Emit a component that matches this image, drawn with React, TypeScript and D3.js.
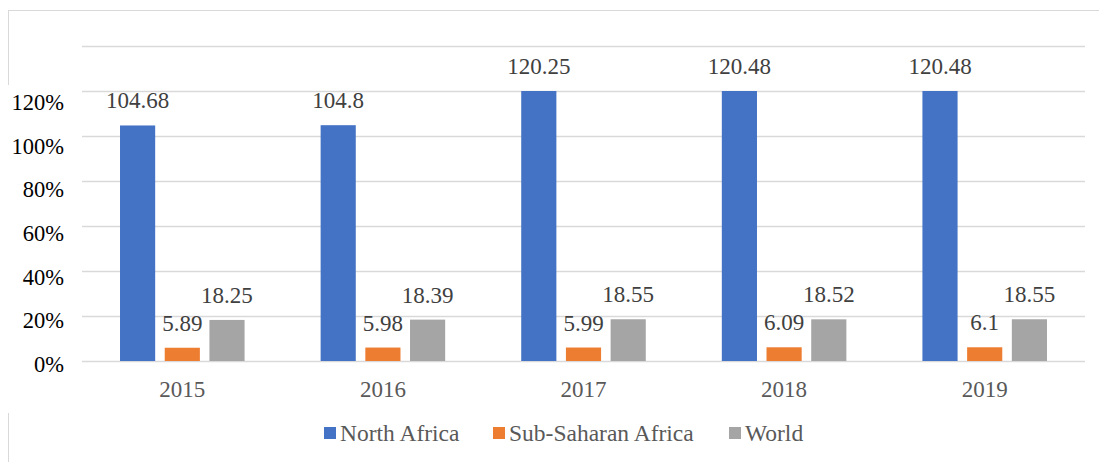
import React from "react";
import * as d3 from "d3";

const years = ["2015", "2016", "2017", "2018", "2019"];
const seriesNames = ["North Africa", "Sub-Saharan Africa", "World"];
const northAfrica = [104.68, 104.8, 120.25, 120.48, 120.48];
const subSaharan = [5.89, 5.98, 5.99, 6.09, 6.1];
const world = [18.25, 18.39, 18.55, 18.52, 18.55];
const colors = ["#4472C4", "#ED7D31", "#A5A5A5"];
const gridTicks = [0, 20, 40, 60, 80, 100, 120, 140];
const labelTicks = [0, 20, 40, 60, 80, 100, 120];
const axisMax = 120;

const W = 1099;
const H = 462;

export default function App() {
  const series = [northAfrica, subSaharan, world];
  const x = d3.scaleBand().domain(years).range([82, 1085]).padding(0);
  const inner = d3
    .scaleBand()
    .domain(seriesNames)
    .range([0, 133.5])
    .paddingInner(0.2135)
    .paddingOuter(0.1);
  const innerOffset = (x.bandwidth() - 133.5) / 2;
  const y = d3.scaleLinear().domain([0, 140]).range([361, 46]);
  const yLabel = d3.scaleLinear().domain([0, 120]).range([364, 102]);
  const font = "Liberation Serif";

  const legendX = [324, 493, 729];

  return (
    <svg
      width={W}
      height={H}
      style={{ position: "absolute", left: 0, top: 0, background: "#fff" }}
    >
      <line x1={8} x2={W} y1={10.5} y2={10.5} stroke="#D9D9D9" />
      <line x1={8.5} x2={8.5} y1={10} y2={85} stroke="#D9D9D9" />
      <line x1={8.5} x2={8.5} y1={413} y2={H} stroke="#D9D9D9" />

      {gridTicks.map((t) => (
        <line
          key={t}
          x1={82}
          x2={1085}
          y1={Math.round(y(t)) + 0.5}
          y2={Math.round(y(t)) + 0.5}
          stroke="#D9D9D9"
          strokeWidth={1.5}
        />
      ))}

      {labelTicks.map((t) => (
        <text
          key={t}
          x={64}
          y={yLabel(t)}
          dy="0.35em"
          textAnchor="end"
          style={{ fontFamily: font, fontSize: 22.5 }}
          fill="#000"
        >
          {t}%
        </text>
      ))}

      {years.map((yr, i) => (
        <g key={yr} transform={`translate(${x(yr)! + innerOffset},0)`}>
          {series.map((s, k) => {
            const v = s[i];
            const top = y(Math.min(v, axisMax));
            const bx = inner(seriesNames[k])!;
            const bw = inner.bandwidth();
            return (
              <g key={k}>
                <rect
                  x={bx}
                  y={top}
                  width={bw}
                  height={y(0) - top}
                  fill={colors[k]}
                />
                <text
                  x={bx + bw / 2}
                  y={top - 17}
                  textAnchor="middle"
                  style={{ fontFamily: font, fontSize: 23 }}
                  fill="#404040"
                >
                  {v}
                </text>
              </g>
            );
          })}
        </g>
      ))}

      {years.map((yr) => (
        <text
          key={yr}
          x={x(yr)! + x.bandwidth() / 2}
          y={397}
          textAnchor="middle"
          style={{ fontFamily: font, fontSize: 23 }}
          fill="#595959"
        >
          {yr}
        </text>
      ))}

      {seriesNames.map((n, k) => (
        <g key={n}>
          <rect x={legendX[k]} y={427} width={12} height={12} fill={colors[k]} />
          <text
            x={legendX[k] + 16}
            y={441}
            style={{ fontFamily: font, fontSize: 23.5 }}
            fill="#595959"
          >
            {n}
          </text>
        </g>
      ))}
    </svg>
  );
}
